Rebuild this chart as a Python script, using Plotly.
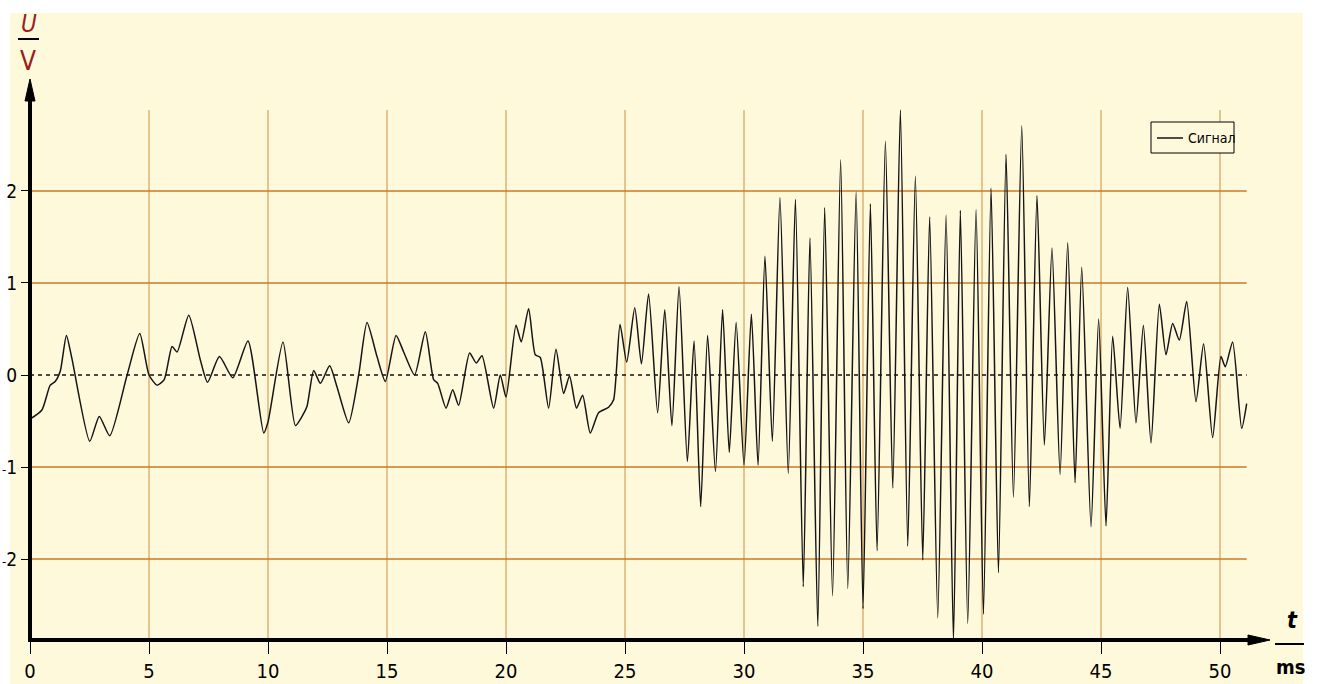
import plotly.graph_objects as go

# Signal samples: time in ms, voltage in V
t_ms = [
    0.0, 0.5, 0.85, 1.06, 1.27, 1.53, 1.76, 2.51, 2.91, 3.35, 4.08, 4.61, 5.0, 5.34, 5.64,
    5.97, 6.18, 6.67, 7.16, 7.46, 7.96, 8.52, 9.16, 9.82, 10.0, 10.63, 11.15, 11.43, 11.64,
    11.92, 12.2, 12.59, 12.9, 13.39, 13.81, 14.16, 14.58, 14.93, 15.38, 15.7, 16.16, 16.61,
    16.96, 17.13, 17.48, 17.76, 18.01, 18.47, 18.75, 18.99, 19.48, 19.76, 20.0, 20.42, 20.64,
    20.95, 21.23, 21.44, 21.79, 22.1, 22.42, 22.67, 22.96, 23.22, 23.54, 23.89, 24.31, 24.52,
    24.79, 25.07, 25.41, 25.69, 25.99, 26.37, 26.67, 26.97, 27.27, 27.62, 27.9, 28.18, 28.47,
    28.8, 29.1, 29.38, 29.67, 30.0, 30.31, 30.59, 30.88, 31.19, 31.51, 31.86, 32.16, 32.49,
    32.77, 33.1, 33.39, 33.72, 34.06, 34.36, 34.71, 35.0, 35.31, 35.59, 35.94, 36.25, 36.57,
    36.88, 37.2, 37.51, 37.8, 38.14, 38.49, 38.8, 39.09, 39.4, 39.75, 40.06, 40.38, 40.69,
    41.01, 41.32, 41.67, 41.99, 42.31, 42.62, 42.94, 43.28, 43.6, 43.91, 44.19, 44.58, 44.9,
    45.21, 45.49, 45.8, 46.12, 46.47, 46.78, 47.1, 47.45, 47.73, 48.01, 48.29, 48.6, 48.99,
    49.31, 49.69, 50.04, 50.22, 50.53, 50.91, 51.12,
]
u_volts = [
    -0.48, -0.38, -0.11, -0.07, 0.04, 0.43, 0.18, -0.72, -0.45, -0.66, 0.0, 0.45, 0.0, -0.11, -0.05,
    0.31, 0.25, 0.65, 0.16, -0.08, 0.2, -0.03, 0.37, -0.63, -0.51, 0.36, -0.55, -0.45, -0.34,
    0.05, -0.09, 0.10, -0.13, -0.52, 0.0, 0.57, 0.2, -0.07, 0.43, 0.25, 0.0, 0.47,
    -0.05, -0.09, -0.36, -0.16, -0.33, 0.24, 0.13, 0.21, -0.36, 0.0, -0.24, 0.54, 0.36,
    0.72, 0.22, 0.19, -0.36, 0.28, -0.2, -0.01, -0.36, -0.22, -0.63, -0.41, -0.35, -0.27,
    0.55, 0.14, 0.73, 0.12, 0.88, -0.41, 0.71, -0.55, 0.96, -0.94, 0.37, -1.43, 0.43,
    -1.05, 0.71, -0.84, 0.57, -0.98, 0.66, -0.98, 1.29, -0.72, 1.93, -1.07, 1.91, -2.30,
    1.49, -2.73, 1.82, -2.40, 2.34, -2.32, 1.99, -2.54, 1.86, -1.91, 2.54, -1.23, 2.88,
    -1.86, 2.16, -2.01, 1.72, -2.64, 1.74, -2.89, 1.79, -2.70, 1.80, -2.60, 2.03, -2.15,
    2.40, -1.33, 2.71, -1.43, 1.95, -0.76, 1.38, -1.08, 1.44, -1.17, 1.17, -1.65, 0.61,
    -1.64, 0.42, -0.58, 0.95, -0.52, 0.54, -0.74, 0.77, 0.22, 0.56, 0.38, 0.80, -0.29,
    0.34, -0.68, 0.20, 0.09, 0.36, -0.58, -0.31,
]

x_ticks = [0, 5, 10, 15, 20, 25, 30, 35, 40, 45, 50]
y_ticks = [-2, -1, 0, 1, 2]
y_tick_text = ["-2", "-1", "0", "1", "2"]
series_name = "Сигнал"

# Canvas / plot-area geometry (pixels)
W, H = 1317, 684
L, R, T, B = 30, 1270, 79, 640
X_RANGE = [0, 52.1]
Y_RANGE = [-2.88, 3.217]

BG = "#fff9db"
GRID_H = "#c97a26"
GRID_V = "#cf8d3e"
AXIS_RED = "#9b1c1c"
FONT = "DejaVu Sans Condensed, Liberation Sans Narrow, Liberation Sans, sans-serif"


def px(x):
    return (x - L) / (R - L)


def py(y):
    return (B - y) / (B - T)


def small_minus(s):
    # render the minus sign in a compact size so labels stay inside the canvas
    if s.startswith("-"):
        return "<span style='font-size:13px'>-</span>" + s[1:]
    return s


fig = go.Figure()
fig.add_trace(go.Scatter(
    x=t_ms, y=u_volts, mode="lines", name=series_name,
    line=dict(color="#151515", width=1.5, shape="spline", smoothing=0.6),
    showlegend=False, hoverinfo="x+y",
))

shapes = []
# cream panel behind everything
shapes.append(dict(type="rect", xref="paper", yref="paper", layer="below",
                   x0=px(10), x1=px(1303), y0=py(H), y1=py(13),
                   fillcolor=BG, line=dict(width=0)))

t_end = max(t_ms)
v_lo, v_hi = min(u_volts), max(u_volts)
# grid spans the extent of the data
for xv in x_ticks[1:]:
    shapes.append(dict(type="line", xref="x", yref="y", layer="below",
                       x0=xv, x1=xv, y0=v_lo, y1=v_hi,
                       line=dict(color=GRID_V, width=1)))
for yv in y_ticks:
    if yv == 0:
        continue
    shapes.append(dict(type="line", xref="x", yref="y", layer="below",
                       x0=0, x1=t_end, y0=yv, y1=yv,
                       line=dict(color=GRID_H, width=1.6)))
# dashed zero line
shapes.append(dict(type="line", xref="x", yref="y", layer="below",
                   x0=0, x1=t_end, y0=0, y1=0,
                   line=dict(color="#111111", width=1.6, dash="4px,4px")))

# thick axes with arrowheads
shapes.append(dict(type="line", xref="paper", yref="paper",
                   x0=px(L), x1=px(L), y0=py(B + 2), y1=py(99),
                   line=dict(color="black", width=4)))
shapes.append(dict(type="path", xref="paper", yref="paper",
                   path=f"M {px(L)} {py(T)} L {px(L - 5)} {py(101)} L {px(L + 5)} {py(101)} Z",
                   fillcolor="black", line=dict(color="black", width=1)))
shapes.append(dict(type="line", xref="paper", yref="paper",
                   x0=px(L - 2), x1=px(1252), y0=py(B), y1=py(B),
                   line=dict(color="black", width=4)))
shapes.append(dict(type="path", xref="paper", yref="paper",
                   path=f"M {px(R)} {py(B)} L {px(1248)} {py(B - 5)} L {px(1248)} {py(B + 5)} Z",
                   fillcolor="black", line=dict(color="black", width=1)))

# axis unit fractions
shapes.append(dict(type="line", xref="paper", yref="paper",
                   x0=px(18), x1=px(39), y0=py(39), y1=py(39),
                   line=dict(color="black", width=2)))
shapes.append(dict(type="line", xref="paper", yref="paper",
                   x0=px(1275), x1=px(1304), y0=py(644), y1=py(644),
                   line=dict(color="black", width=2)))

# legend box
shapes.append(dict(type="rect", xref="paper", yref="paper",
                   x0=px(1151), x1=px(1234), y0=py(153), y1=py(122),
                   fillcolor=BG, line=dict(color="black", width=1)))
shapes.append(dict(type="line", xref="paper", yref="paper",
                   x0=px(1157), x1=px(1183), y0=py(138), y1=py(138),
                   line=dict(color="#151515", width=1.5)))


def label(text, x, y, size, color="black", anchor="center"):
    return dict(text=text, x=px(x), y=py(y), xref="paper", yref="paper",
                xanchor=anchor, yanchor="middle", showarrow=False,
                font=dict(family=FONT, size=size, color=color))


annotations = [
    label("<i>U</i>", 29, 24, 24, AXIS_RED),
    label("V", 28, 61, 26, AXIS_RED),
    label("<b><i>t</i></b>", 1292, 620, 23),
    label("<b>ms</b>", 1290, 667, 20),
    label(series_name, 1186, 138, 14, anchor="left"),
]

fig.update_layout(
    width=W, height=H,
    margin=dict(l=L, r=W - R, t=T, b=H - B, pad=0, autoexpand=False),
    paper_bgcolor="white", plot_bgcolor="rgba(0,0,0,0)",
    shapes=shapes, annotations=annotations, showlegend=False,
    xaxis=dict(range=X_RANGE, tickvals=x_ticks, ticktext=[str(v) for v in x_ticks],
               showgrid=False, zeroline=False, showline=False, automargin=False,
               ticks="outside", ticklen=13, tickwidth=1.3, tickcolor="black",
               tickfont=dict(family=FONT, size=20, color="black")),
    yaxis=dict(range=Y_RANGE, tickvals=y_ticks,
               ticktext=[small_minus(s) for s in y_tick_text],
               showgrid=False, zeroline=False, showline=False, automargin=False,
               ticks="outside", ticklen=8, tickwidth=1.3, tickcolor="black",
               tickfont=dict(family=FONT, size=19, color="black")),
)

fig.write_html("out.html")
